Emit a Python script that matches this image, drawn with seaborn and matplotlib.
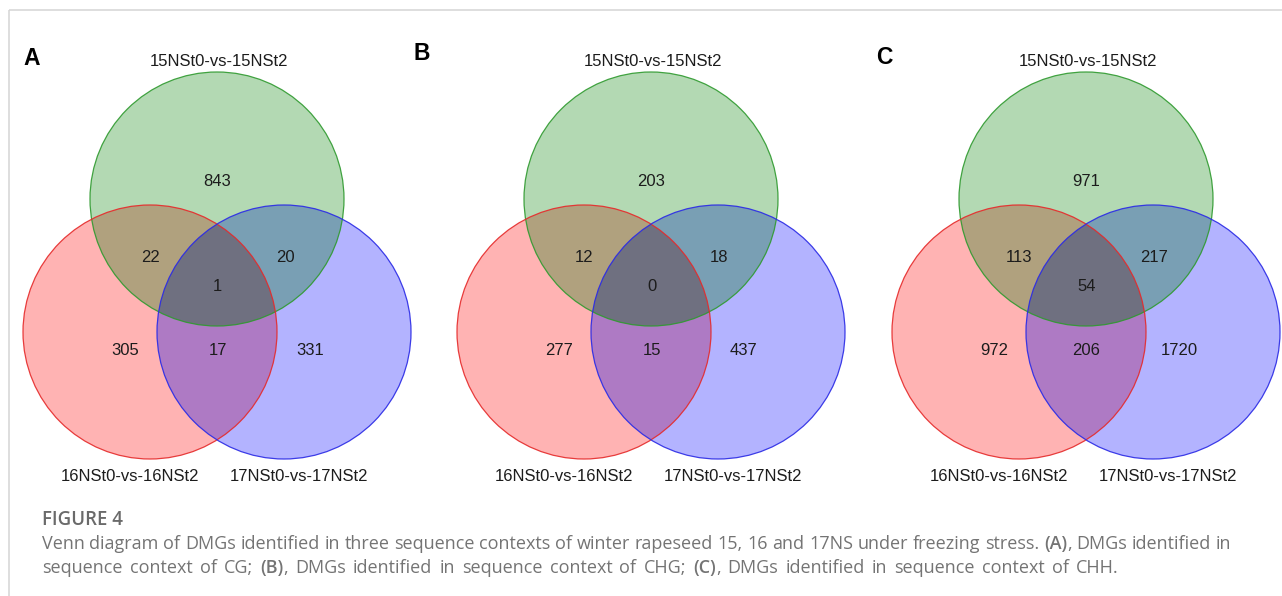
import numpy as np
import pandas as pd
import seaborn as sns
import matplotlib
matplotlib.use("Agg")
import matplotlib.pyplot as plt
from matplotlib.patches import Circle, Polygon

# ---------------- data ----------------
panels = ["A", "B", "C"]
set_names = ["15NSt0-vs-15NSt2", "16NSt0-vs-16NSt2", "17NSt0-vs-17NSt2"]
only_15 = [843, 203, 971]
only_16 = [305, 277, 972]
only_17 = [331, 437, 1720]
n15_16 = [22, 12, 113]
n15_17 = [20, 18, 217]
n16_17 = [17, 15, 206]
n_all = [1, 0, 54]

caption_title = "FIGURE 4"
caption_line1 = [("Venn diagram of DMGs identified in three sequence contexts of winter "
                  "rapeseed 15, 16 and 17NS under freezing stress. ", False),
                 ("(A)", True), (", DMGs identified in", False)]
caption_line2 = [("sequence context of CG; ", False), ("(B)", True),
                 (", DMGs identified in sequence context of CHG; ", False), ("(C)", True),
                 (", DMGs identified in sequence context of CHH.", False)]

counts = pd.DataFrame({"panel": panels, "only_15": only_15, "only_16": only_16,
                       "only_17": only_17, "n15_16": n15_16, "n15_17": n15_17,
                       "n16_17": n16_17, "n_all": n_all})

# ---------------- layout / style ----------------
sns.set_theme(style="white")
plt.rcParams["font.family"] = ["Liberation Sans", "DejaVu Sans"]

W, H = 1282, 596
fig = plt.figure(figsize=(W / 100, H / 100), dpi=100)
fig.patch.set_facecolor("white")
ax = fig.add_axes([0, 0, 1, 1])
ax.set_xlim(0, W)
ax.set_ylim(H, 0)
ax.axis("off")

dxs = [0, 434, 869]
R = 127
c_g = (217, 199)
c_r = (150, 332)
c_b = (284, 332)

col_g = "#b3d9b3"
col_r = "#ffb3b3"
col_b = "#b3b3ff"
col_gr = "#b0a17e"
col_gb = "#799fb4"
col_rb = "#ae7ac4"
col_grb = "#6f7080"
edge_g, edge_r, edge_b = "#2f9a2f", "#e52a2a", "#2a2ae5"


def lens(c1, c2, r, n=200):
    c1 = np.array(c1, float)
    c2 = np.array(c2, float)
    d = np.linalg.norm(c2 - c1)
    phi = np.arctan2(*(c2 - c1)[::-1])
    a = np.arccos(d / (2 * r))
    t1 = np.linspace(phi - a, phi + a, n)
    t2 = np.linspace(phi + np.pi - a, phi + np.pi + a, n)
    p1 = c1 + r * np.c_[np.cos(t1), np.sin(t1)]
    p2 = c2 + r * np.c_[np.cos(t2), np.sin(t2)]
    return np.vstack([p1, p2])


txt_col = "#1c1c1c"
for i, row in counts.iterrows():
    dx = dxs[i]
    g = (c_g[0] + dx, c_g[1])
    r_ = (c_r[0] + dx, c_r[1])
    b = (c_b[0] + dx, c_b[1])
    for c, col in [(g, col_g), (r_, col_r), (b, col_b)]:
        ax.add_patch(Circle(c, R, facecolor=col, edgecolor="none", zorder=1))
    clip_g = Circle(g, R, transform=ax.transData)
    clip_r = Circle(r_, R, transform=ax.transData)
    clip_b = Circle(b, R, transform=ax.transData)
    p = ax.add_patch(Circle(r_, R, facecolor=col_gr, edgecolor="none", zorder=2))
    p.set_clip_path(clip_g)
    p = ax.add_patch(Circle(b, R, facecolor=col_gb, edgecolor="none", zorder=2))
    p.set_clip_path(clip_g)
    p = ax.add_patch(Circle(b, R, facecolor=col_rb, edgecolor="none", zorder=2.5))
    p.set_clip_path(clip_r)
    p = ax.add_patch(Polygon(lens(g, r_, R), closed=True, facecolor=col_grb,
                             edgecolor="none", zorder=3))
    p.set_clip_path(clip_b)
    for c, ec in [(g, edge_g), (r_, edge_r), (b, edge_b)]:
        ax.add_patch(Circle(c, R, facecolor="none", edgecolor=ec, lw=0.9,
                            alpha=0.9, zorder=4))

    # counts
    spots = [("only_15", 217.5, 186), ("n15_16", 150, 262), ("n15_17", 285, 262),
             ("n_all", 217.5, 291), ("only_16", 125, 355), ("n16_17", 217.5, 355),
             ("only_17", 310, 355)]
    for key, x, y in spots:
        ax.text(x + dx, y, str(row[key]), ha="center", va="baseline",
                fontsize=12, color=txt_col, zorder=5)

    # set labels
    ax.text(219 + dx, 66, set_names[0], ha="center", va="baseline", fontsize=12,
            color=txt_col, zorder=5)
    ax.text(130 + dx, 481, set_names[1], ha="center", va="baseline", fontsize=12,
            color=txt_col, zorder=5)
    ax.text(299 + dx, 481, set_names[2], ha="center", va="baseline", fontsize=12,
            color=txt_col, zorder=5)

# panel letters
for letter, (x, y) in zip(panels, [(31.5, 65), (422, 60), (884, 64)]):
    ax.text(x, y, letter, ha="center", va="baseline", fontsize=16.5,
            fontweight="bold", color="black", zorder=5)

# frame lines
ax.plot([9, W], [9.5, 9.5], color="#d4d4d4", lw=1.1, solid_capstyle="butt", clip_on=False)
ax.plot([9, 9], [9.5, H], color="#d4d4d4", lw=1.1, solid_capstyle="butt", clip_on=False)

# caption
renderer = fig.canvas.get_renderer()
cap_font = ["Open Sans", "DejaVu Sans"]


def width_of(s, fs, weight="normal"):
    t = ax.text(0, 0, s, fontsize=fs, family=cap_font, fontweight=weight)
    w = t.get_window_extent(renderer).width
    t.remove()
    return w


def adv(s, fs, weight):
    return width_of(s + "|", fs, weight) - width_of("|", fs, weight)


full1 = "".join(s for s, _ in caption_line1)
fs_cap = 13 * 1188 / width_of(full1, 13)
fs_title = 13 * 81 / width_of(caption_title, 13, "semibold")

ax.text(42, 525, caption_title, fontsize=fs_title, family=cap_font,
        fontweight="semibold", color="#6a6a6a", va="baseline", ha="left")


def tokens(runs):
    out = []
    for s, bold in runs:
        wgt = "semibold" if bold else "normal"
        parts = s.split(" ")
        for j, part in enumerate(parts):
            if part:
                out.append((part, wgt))
            if j < len(parts) - 1:
                out.append((" ", "normal"))
    return out


def place_line(x0, y, runs, x_end=None):
    toks = tokens(runs)
    space_w = adv(" ", fs_cap, "normal")
    widths = [space_w if t == " " else adv(t, fs_cap, w) for t, w in toks]
    n_sp = sum(1 for t, _ in toks if t == " ")
    extra = 0.0
    if x_end is not None and n_sp:
        extra = max(0.0, (x_end - x0 - sum(widths)) / n_sp)
    x = x0
    for (t, wgt), w in zip(toks, widths):
        if t == " ":
            x += w + extra
            continue
        ax.text(x, y, t, fontsize=fs_cap, family=cap_font, fontweight=wgt,
                color="#747474", va="baseline", ha="left")
        x += w


place_line(42, 549, caption_line1)
place_line(42, 573, caption_line2, x_end=1119)

fig.savefig("out.png", dpi=100, facecolor="white")
